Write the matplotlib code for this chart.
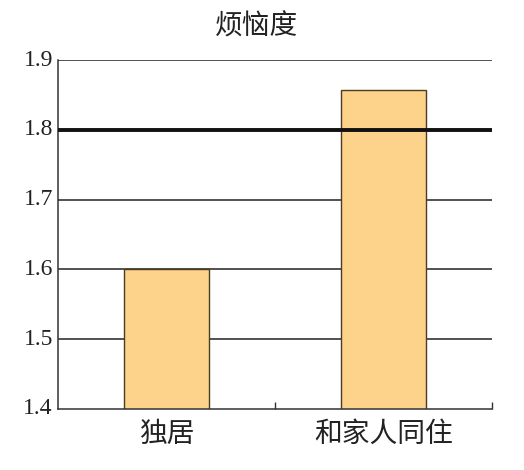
import matplotlib.pyplot as plt
import numpy as np

# --- Data ---
categories = ['独居', '和家人同住']
worry = [1.60, 1.857]
y_ticks = [1.4, 1.5, 1.6, 1.7, 1.8, 1.9]
reference_line = 1.8

plt.rcParams['font.family'] = ['Noto Sans CJK SC', 'DejaVu Sans']
plt.rcParams['font.serif'] = ['Liberation Serif', 'DejaVu Serif']

fig = plt.figure(figsize=(5.24, 4.70), dpi=100)
ax = fig.add_axes([0.1107, 0.1298, 0.8283, 0.7425])

x = np.arange(len(categories))
ax.bar(x, worry, width=0.39, color='#FDD28A', edgecolor='#4a3c20',
       linewidth=1.0, zorder=2)

# thin horizontal grid lines behind the bars
for t in y_ticks[1:]:
    if t != reference_line:
        ax.axhline(t, color='#222222', linewidth=1.1, zorder=1)
# thick reference line drawn over the bars
ax.axhline(reference_line, color='#111111', linewidth=2.8, zorder=3)

ax.set_xlim(-0.5, len(categories) - 0.5)
ax.set_ylim(1.4, 1.9)
ax.set_yticks(y_ticks)
ax.tick_params(axis='y', length=0, pad=5)
ax.set_yticklabels([])
# y tick labels in a serif face, placed as plain texts in axis coordinates
for t in y_ticks:
    ax.text(-0.012, (t - 1.4) / 0.5, f'{t:.1f}', transform=ax.transAxes,
            ha='right', va='center', fontsize=17, color='#222222',
            family='serif')

# x axis: labels at centers, small ticks at category boundaries
ax.set_xticks(x)
ax.set_xticklabels(categories, fontsize=20, color='#222222')
ax.tick_params(axis='x', length=0, pad=7)
ax.set_xticks(np.arange(len(categories)) + 0.5, minor=True)
ax.tick_params(axis='x', which='minor', direction='in', length=5,
               width=1.0, color='#333333')

for side in ['top', 'right']:
    ax.spines[side].set_visible(False)
for side in ['left', 'bottom']:
    ax.spines[side].set_color('#333333')
    ax.spines[side].set_linewidth(1.1)

fig.text(0.49, 0.9436, '烦恼度', ha='center', va='center', fontsize=20,
         color='#222222')

fig.savefig('out.png', dpi=100)
